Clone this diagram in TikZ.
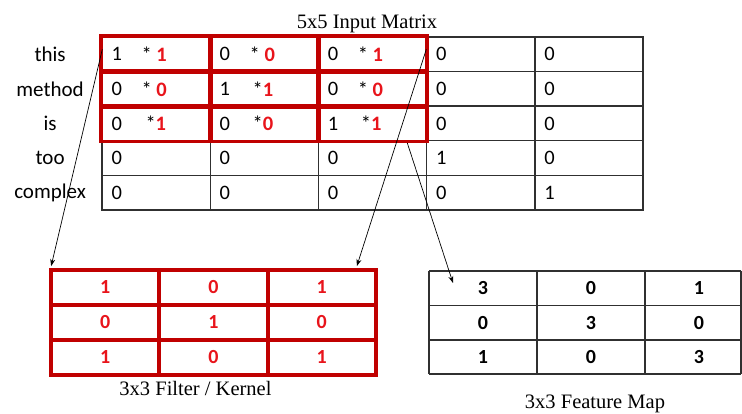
\documentclass[tikz,border=0pt]{standalone}
\usepackage{fontspec}
\setmainfont{Liberation Serif}
\newfontfamily\cellfont{Carlito}
\usetikzlibrary{calc,arrows.meta}
\definecolor{boxred}{HTML}{C00000}
\definecolor{digitred}{HTML}{E8141B}
\definecolor{gridgray}{HTML}{303030}
\tikzset{
  cellbox/.style={draw=gridgray, line width=1.4pt, inner sep=0pt,
                  minimum width=108.2pt, minimum height=34.6pt},
  kcell/.style={draw=boxred, line width=3.8pt, inner sep=0pt,
                minimum width=108.3pt, minimum height=35pt,
                font=\cellfont\bfseries\fontsize{20}{24}\selectfont, text=digitred},
  redbox/.style={draw=boxred, line width=3.8pt},
  gridline/.style={draw=gridgray, line width=1.4pt},
  rowlabel/.style={font=\cellfont\fontsize{21}{25}\selectfont, inner sep=0pt},
  val/.style={font=\cellfont\fontsize{20.5}{24}\selectfont, anchor=west, inner sep=0pt},
  fval/.style={font=\cellfont\bfseries\fontsize{20}{24}\selectfont, inner sep=0pt},
  caption/.style={font=\fontsize{20.5}{24}\selectfont, inner sep=0pt, anchor=base},
  link/.style={-{Stealth[length=7pt,width=5pt]}, line width=0.7pt}
}
\newcommand{\rd}[1]{{\color{digitred}\bfseries #1}}
\begin{document}
\begin{tikzpicture}[x=1pt,y=-1pt]
\useasboundingbox (0,0) rectangle (742,414);

% 5x5 input matrix (identity)
\foreach \r [evaluate=\r as \yy using 54.3+(\r-1)*34.6] in {1,...,5}{
  \foreach \c [evaluate=\c as \xx using 156.1+(\c-1)*108.2] in {1,...,5}{
    \node[cellbox] (m-\r-\c) at (\xx,\yy) {};
    \node[val] at ($(m-\r-\c.west)+(10,0)$) {\ifnum\r=\c\relax 1\else 0\fi};
  }
}
\node[caption] (title) at (367,29) {5x5 Input Matrix};

% row words
\foreach \r/\w in {1/this,2/method,3/is,4/too,5/complex}
  \node[rowlabel] (w-\r) at ($(m-\r-1.center)+(-106,0)$) {\w};

% products with the kernel weights
\foreach \r/\c/\dx/\t in {1/1/40/{* \rd{1}}, 1/2/40/{* \rd{0}}, 1/3/40/{* \rd{1}},
                          2/1/40/{* \rd{0}}, 2/2/43/{*\rd{1}}, 2/3/40/{* \rd{0}},
                          3/1/44/{*\rd{1}},  3/2/43/{*\rd{0}}, 3/3/43/{*\rd{1}}}
  \node[val] at ($(m-\r-\c.west)+(\dx,0)$) {\t};

% highlighted 3x3 window
\foreach \r in {1,2,3}
  \foreach \c in {1,2,3}
    \draw[redbox] (m-\r-\c.north west) rectangle (m-\r-\c.south east);

% 3x3 kernel
\foreach \r/\a/\b/\cc in {1/1/0/1, 2/0/1/0, 3/1/0/1}{
  \node[kcell] (k-\r-1) at (105.2,{287.5+(\r-1)*35}) {\a};
  \node[kcell] (k-\r-2) at (213.5,{287.5+(\r-1)*35}) {\b};
  \node[kcell] (k-\r-3) at (321.8,{287.5+(\r-1)*35}) {\cc};
}
\node[caption] (kcap) at (195.5,395) {3x3 Filter / Kernel};

% 3x3 feature map
\foreach \y in {271,305.5,340,374}
  \draw[gridline] (429,\y) -- (741,\y);
\foreach \x in {429,537,645,741}
  \draw[gridline] (\x,271) -- (\x,374);
\foreach \r/\a/\b/\cc [evaluate=\r as \yy using 288.5+(\r-1)*34.3] in {1/3/0/1, 2/0/3/0, 3/1/0/3}{
  \node[fval] (f-\r-1) at (483,\yy) {\a};
  \node[fval] (f-\r-2) at (591,\yy) {\b};
  \node[fval] (f-\r-3) at (699,\yy) {\cc};
}
\node[caption] (fcap) at (595,408) {3x3 Feature Map};

% connectors
\draw[link] ($(m-1-1.north west)+(1,13)$) -- ($(k-1-1.north west)+(2,-2)$);
\draw[link] ($(m-1-3.north east)+(-1,13)$) -- ($(k-1-3.north east)+(-21,-2)$);
\draw[link] ($(m-3-3.south east)+(-20,1.5)$) -- ($(f-1-1.center)+(-30,-5.5)$);
\end{tikzpicture}
\end{document}
